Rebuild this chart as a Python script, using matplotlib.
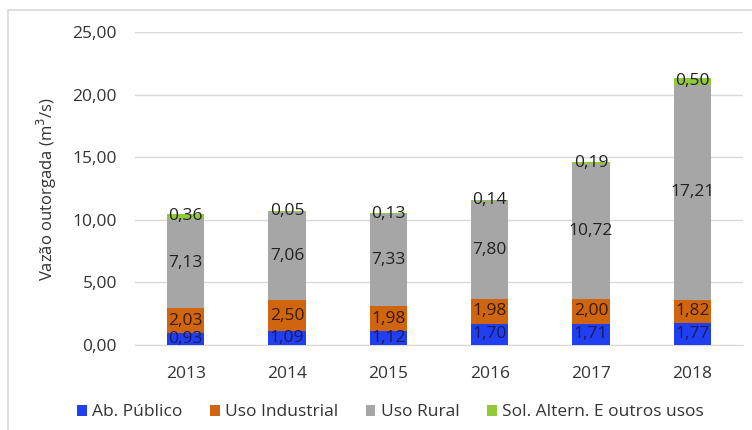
import numpy as np
import matplotlib.pyplot as plt
from matplotlib.patches import Rectangle

# Vazão outorgada por uso (m³/s)
anos = ['2013', '2014', '2015', '2016', '2017', '2018']
ab_publico = [0.93, 1.09, 1.12, 1.70, 1.71, 1.77]
uso_industrial = [2.03, 2.50, 1.98, 1.98, 2.00, 1.82]
uso_rural = [7.13, 7.06, 7.33, 7.80, 10.72, 17.21]
sol_altern = [0.36, 0.05, 0.13, 0.14, 0.19, 0.50]

series = [
    ('Ab. Público', ab_publico, '#1f3ff0', '#1a1a60'),
    ('Uso Industrial', uso_industrial, '#d0650f', '#3a1a05'),
    ('Uso Rural', uso_rural, '#a6a6a6', '#222222'),
    ('Sol. Altern. E outros usos', sol_altern, '#92c83a', '#222222'),
]

plt.rcParams['font.family'] = ['Open Sans', 'DejaVu Sans']

fig = plt.figure(figsize=(7.52, 4.30), dpi=100)
ax = fig.add_axes([135 / 752, 1 - 345 / 430, 608 / 752, 313 / 430])

# light frame around the chart
fig.patches.append(Rectangle((8 / 752, -0.1), 1.2, 1 - 10 / 430 + 0.1,
                             transform=fig.transFigure, fill=False,
                             edgecolor='#d9d9d9', linewidth=1.2))

x = np.arange(len(anos))
bottom = np.zeros(len(anos))
for nome, vals, cor, cor_txt in series:
    vals = np.array(vals)
    ax.bar(x, vals, 0.37, bottom=bottom, color=cor, label=nome, zorder=3)
    for xi, b, v in zip(x, bottom, vals):
        ax.text(xi, b + v / 2, f'{v:.2f}'.replace('.', ','), ha='center', va='center',
                fontsize=12.5, color=cor_txt, zorder=4)
    bottom += vals

ax.set_xlim(-0.5, len(anos) - 0.5)
ax.set_ylim(0, 25)
ax.set_yticks(np.arange(0, 26, 5))
ax.set_yticklabels([f'{v:.2f}'.replace('.', ',') for v in np.arange(0, 26, 5)])
ax.set_xticks(x)
ax.set_xticklabels(anos)
ax.tick_params(axis='both', length=0, labelsize=12.5, colors='#333333')
ax.tick_params(axis='x', pad=15)
ax.tick_params(axis='y', pad=13)
ax.grid(axis='y', color='#d9d9d9', linewidth=1, zorder=0)
for s in ['top', 'right', 'left']:
    ax.spines[s].set_visible(False)
ax.spines['bottom'].set_color('#d9d9d9')
ax.set_ylabel('Vazão outorgada (m$^3$/s)', fontsize=12, color='#333333', labelpad=10)

ax.legend(loc='upper center', bbox_to_anchor=(0.42, -0.14), ncol=4, frameon=False,
          fontsize=12.5, handlelength=0.55, handleheight=0.55, handletextpad=0.3,
          columnspacing=1.6, labelcolor='#333333')

fig.savefig('out.png', dpi=100)
